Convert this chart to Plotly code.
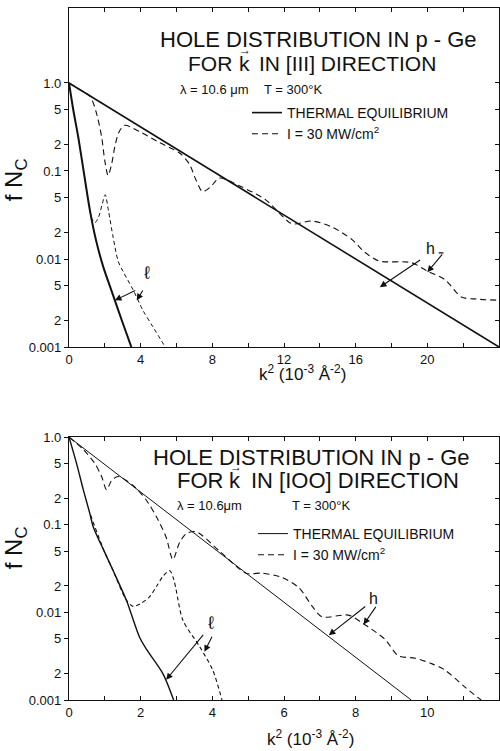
import plotly.graph_objects as go

# ---------------- data: top panel, k along [111] ----------------
heavy_eq_111_k2 = [0, 24]
heavy_eq_111_f = [1.0, 0.001]

light_eq_111_k2 = [0, 0.25, 0.52, 0.8, 1.17, 1.5, 1.9, 2.4, 2.95, 3.48]
light_eq_111_f = [1.0, 0.48, 0.24, 0.105, 0.0355, 0.0166, 0.0083, 0.0042, 0.0020, 0.001]

heavy_ne_111_k2 = [0, 0.6, 1.17, 1.5, 1.82, 2.0, 2.18, 2.38, 2.56, 2.8, 3.11, 3.94, 5.06,
                   6.17, 6.72, 7.09, 7.46, 7.9, 8.4, 9.5, 10.98, 12.3, 12.6, 13.57, 14.7,
                   15.8, 16.5, 17.3, 19.1, 20.05, 21.0, 21.9, 22.8, 24.0]
heavy_ne_111_f = [1.0, 0.84, 0.71, 0.48, 0.245, 0.13, 0.089, 0.12, 0.19, 0.28, 0.33, 0.28, 0.21,
                  0.16, 0.12, 0.079, 0.058, 0.066, 0.083, 0.068, 0.047, 0.026, 0.025, 0.027, 0.023,
                  0.0166, 0.012, 0.0095, 0.0091, 0.0072, 0.0058, 0.0037, 0.0035, 0.0034]

light_ne_111_k2 = [1.17, 1.3, 1.44, 1.65, 1.85, 2.02, 2.2, 2.46, 2.74, 3.02, 3.57, 4.13, 4.68, 5.37]
light_ne_111_f = [0.0355, 0.028, 0.0257, 0.030, 0.0417, 0.0537, 0.0355, 0.0178, 0.0095, 0.0072,
                  0.0045, 0.0026, 0.0017, 0.001]

# ---------------- data: bottom panel, k along [100] ----------------
heavy_eq_100_k2 = [0, 9.55]
heavy_eq_100_f = [1.0, 0.001]

light_eq_100_k2 = [0, 0.21, 0.40, 0.58, 0.675, 1.0, 1.23, 1.6, 1.74, 1.97, 2.16, 2.62, 2.92]
light_eq_100_f = [1.0, 0.50, 0.25, 0.135, 0.095, 0.048, 0.030, 0.0138, 0.0095, 0.0052, 0.0038,
                  0.0020, 0.001]

heavy_ne_100_k2 = [0, 0.40, 0.72, 0.91, 1.05, 1.19, 1.37, 1.79, 2.16, 2.44, 2.71, 2.90, 3.08,
                   3.27, 3.55, 4.2, 4.94, 5.4, 5.95, 6.42, 6.79, 7.06, 7.8, 8.18, 8.82, 9.19,
                   9.66, 10.12, 10.49, 11.05, 11.5]
heavy_ne_100_f = [1.0, 0.72, 0.50, 0.355, 0.25, 0.32, 0.355, 0.28, 0.19, 0.123, 0.072, 0.040, 0.062,
                  0.079, 0.083, 0.050, 0.028, 0.028, 0.025, 0.019, 0.0117, 0.0089, 0.0093, 0.0076,
                  0.0049, 0.0032, 0.0030, 0.0026, 0.0022, 0.0014, 0.001]

light_ne_100_k2 = [0.6, 1.0, 1.23, 1.6, 1.79, 2.0, 2.25, 2.45, 2.62, 2.81, 2.92, 2.99, 3.18,
                   3.64, 4.01, 4.27]
light_ne_100_f = [0.129, 0.048, 0.030, 0.0138, 0.0117, 0.0126, 0.0151, 0.020, 0.0257, 0.030,
                  0.024, 0.018, 0.0081, 0.0041, 0.0022, 0.001]

# ---------------- tick labels ----------------
y_tickvals = [1.0, 0.5, 0.2, 0.1, 0.05, 0.02, 0.01, 0.005, 0.002, 0.001]
y_ticktext = ["1.0", "5", "2", "0.1", "5", "2", "0.01", "5", "2", "0.001"]
x_top_tickvals = list(range(0, 25, 2))
x_top_ticktext = [str(v) if v % 4 == 0 else "" for v in x_top_tickvals]
x_bot_tickvals = list(range(0, 13, 1))
x_bot_ticktext = [str(v) if v % 2 == 0 else "" for v in x_bot_tickvals]

FONT = "Liberation Sans"
BLACK = "#111"

fig = go.Figure()


def add(xs, ys, xa, ya, width, dash, name=None, legend=None, show=False):
    fig.add_trace(go.Scatter(
        x=xs, y=ys, xaxis=xa, yaxis=ya, mode="lines",
        line=dict(color=BLACK, width=width, dash=dash, shape="spline", smoothing=0.8),
        name=name, legend=legend, showlegend=show, hoverinfo="skip"))


# top panel
add(heavy_eq_111_k2, heavy_eq_111_f, "x", "y", 1.6, "solid", "THERMAL EQUILIBRIUM", "legend", True)
add(heavy_ne_111_k2, heavy_ne_111_f, "x", "y", 1.1, "6px,4px", "I = 30 MW/cm<sup>2</sup>", "legend", True)
add(light_eq_111_k2, light_eq_111_f, "x", "y", 2.0, "solid")
add(light_ne_111_k2, light_ne_111_f, "x", "y", 1.0, "4px,3px")
# bottom panel
add(heavy_eq_100_k2, heavy_eq_100_f, "x2", "y2", 1.0, "solid", "THERMAL EQUILIBRIUM", "legend2", True)
add(heavy_ne_100_k2, heavy_ne_100_f, "x2", "y2", 1.1, "6px,4px", "I = 30 MW/cm<sup>2</sup>", "legend2", True)
add(light_eq_100_k2, light_eq_100_f, "x2", "y2", 1.4, "solid")
add(light_ne_100_k2, light_ne_100_f, "x2", "y2", 1.1, "4px,3px")
# empty traces to anchor the right-hand tick axes
fig.add_trace(go.Scatter(x=[], y=[], xaxis="x", yaxis="y3", showlegend=False))
fig.add_trace(go.Scatter(x=[], y=[], xaxis="x2", yaxis="y4", showlegend=False))

axis_common = dict(showline=True, linecolor=BLACK, linewidth=1.3, showgrid=False, zeroline=False,
                   ticklen=4, tickcolor=BLACK, tickfont=dict(family=FONT, size=13, color=BLACK))

TOP_DOM = [0.5101, 1.0]
BOT_DOM = [0.0, 0.380]


def py(px):
    # paper y fraction from pixel row
    return (700 - px) / 692.0


def pxx(px):
    return (px - 69) / 430.0


fig.update_layout(
    width=500, height=751,
    margin=dict(l=69, r=1, t=8, b=51),
    paper_bgcolor="white", plot_bgcolor="white",
    xaxis=dict(domain=[0, 1], range=[0, 24], anchor="y", tickmode="array",
               tickvals=x_top_tickvals, ticktext=x_top_ticktext, ticks="inside", mirror="ticks",
               **axis_common),
    yaxis=dict(domain=TOP_DOM, type="log", range=[-3, 0.852], anchor="x", tickmode="array",
               tickvals=y_tickvals, ticktext=y_ticktext, ticks="outside", mirror=True,
               **axis_common),
    yaxis3=dict(overlaying="y", side="right", type="log", range=[-3, 0.852], anchor="x",
                tickmode="array", tickvals=y_tickvals, ticks="inside", ticklen=4, tickcolor=BLACK,
                showticklabels=False, showline=False, showgrid=False, zeroline=False),
    xaxis2=dict(domain=[0, 1], range=[0, 12], anchor="y2", tickmode="array",
                tickvals=x_bot_tickvals, ticktext=x_bot_ticktext, ticks="inside", mirror="ticks",
                **axis_common),
    yaxis2=dict(domain=BOT_DOM, type="log", range=[-3, 0], anchor="x2", tickmode="array",
                tickvals=y_tickvals, ticktext=y_ticktext, ticks="outside", mirror=True,
                **axis_common),
    yaxis4=dict(overlaying="y2", side="right", type="log", range=[-3, 0], anchor="x2",
                tickmode="array", tickvals=y_tickvals, ticks="inside", ticklen=4, tickcolor=BLACK,
                showticklabels=False, showline=False, showgrid=False, zeroline=False),
    legend=dict(x=pxx(247), y=py(97), xanchor="left", yanchor="top", bgcolor="rgba(0,0,0,0)",
                font=dict(family=FONT, size=14, color=BLACK), tracegroupgap=0, itemwidth=30),
    legend2=dict(x=pxx(253), y=py(518), xanchor="left", yanchor="top", bgcolor="rgba(0,0,0,0)",
                 font=dict(family=FONT, size=14, color=BLACK), tracegroupgap=0, itemwidth=30),
    showlegend=True,
)

ann = []


def text(x, y, s, size, xref="paper", yref="paper", xanchor="center", angle=0):
    ann.append(dict(x=x, y=y, xref=xref, yref=yref, text=s, showarrow=False, xanchor=xanchor,
                    yanchor="middle", textangle=angle,
                    font=dict(family=FONT, size=size, color=BLACK)))


# top panel texts
text(pxx(318), py(40), "HOLE DISTRIBUTION IN p - Ge", 22)
text(pxx(234), py(64), "FOR", 21, xanchor="right")
text(pxx(244), py(64), "k", 21)
text(pxx(245), py(50), "\u2192", 12)
text(pxx(257), py(64), "IN [III] DIRECTION", 21, xanchor="left")
text(pxx(178), py(89), "\u03bb = 10.6 \u03bcm", 13, xanchor="left")
text(pxx(262), py(89), "T = 300\u00b0K", 13, xanchor="left")
# bottom panel texts
text(pxx(311), py(457), "HOLE DISTRIBUTION IN p - Ge", 22)
text(pxx(225), py(481), "FOR", 22, xanchor="right")
text(pxx(235), py(481), "k", 22)
text(pxx(236), py(467), "\u2192", 12)
text(pxx(249), py(481), "IN [IOO] DIRECTION", 22, xanchor="left")
text(pxx(175), py(505), "\u03bb = 10.6\u03bcm", 13, xanchor="left")
text(pxx(290), py(505), "T = 300\u00b0K", 13, xanchor="left")

# axis titles
text(-0.125, py(180), "f N<sub>C</sub>", 24, angle=-90)
text(-0.125, py(548), "f N<sub>C</sub>", 24, angle=-90)
text(pxx(302), py(373), "k<sup>2</sup> (10<sup>-3</sup> \u00c5<sup>-2</sup>)", 17)
text(pxx(310), py(738), "k<sup>2</sup> (10<sup>-3</sup> \u00c5<sup>-2</sup>)", 17)

# band labels
text(4.33, -2.16, "\u2113", 18, xref="x", yref="y")
text(20.2, -1.875, "h", 16, xref="x", yref="y")
text(3.96, -2.12, "\u2113", 18, xref="x2", yref="y2")
text(8.5, -1.84, "h", 16, xref="x2", yref="y2")


def arrow(xh, yh, xt, yt, xr, yr, head=2):
    ann.append(dict(x=xh, y=yh, ax=xt, ay=yt, xref=xr, yref=yr, axref=xr, ayref=yr, text="",
                    showarrow=True, arrowhead=head, arrowsize=1.2, arrowwidth=1.1,
                    arrowcolor=BLACK, standoff=0, startstandoff=0))


arrow(2.56, -2.47, 3.78, -2.35, "x", "y")
arrow(3.78, -2.47, 4.17, -2.34, "x", "y")
arrow(17.35, -2.32, 19.68, -2.0, "x", "y")
arrow(20.0, -2.15, 20.9, -1.93, "x", "y")
arrow(20.9, -1.93, 20.55, -1.93, "x", "y", head=0)
arrow(7.25, -2.26, 8.31, -1.92, "x2", "y2")
arrow(8.22, -2.14, 8.59, -1.92, "x2", "y2")
arrow(2.71, -2.77, 3.78, -2.24, "x2", "y2")
arrow(3.78, -2.45, 4.01, -2.26, "x2", "y2")

fig.update_layout(annotations=ann)

fig.write_html("out.html")
